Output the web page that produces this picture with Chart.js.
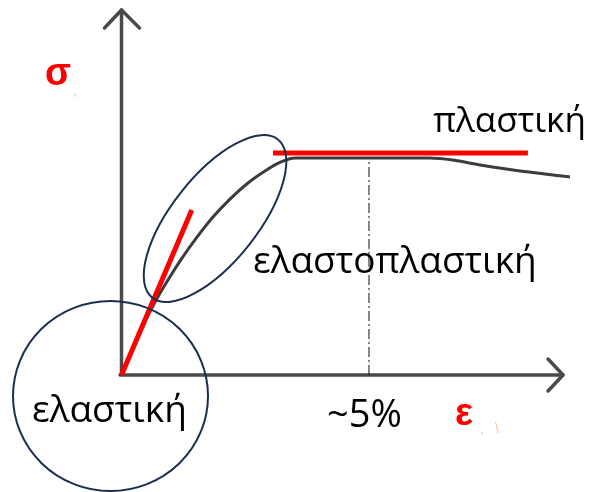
<!DOCTYPE html>
<html>
<head>
<meta charset="utf-8">
<title>σ-ε</title>
<script src="https://cdn.jsdelivr.net/npm/chart.js@4.4.1/dist/chart.umd.min.js"></script>
<style>
    html, body { margin: 0; padding: 0; background: #fff; }
    #wrap { width: 591px; height: 492px; position: relative; }
</style>
</head>
<body>
<div id="wrap"><canvas id="chart" width="591" height="492"></canvas></div>
<script>
/* ---------- Data (strain in %, stress in arbitrary units) ---------- */
const curveStrain = [0, 0.374, 0.677, 0.939, 1.222, 1.525, 1.848, 2.192, 2.556, 2.899, 3.202, 3.505, 6.23, 6.69, 7.24, 7.91, 9.06];
const curveStress = [0, 19.5, 33.0, 43.0, 52.9, 62.4, 71.5, 79.6, 86.9, 92.3, 96.2, 98.2, 98.2, 97.3, 95.0, 92.8, 89.6];

const elasticStrain = [0, 1.42];
const elasticStress = [0, 74.7];

const plasticStrain = [3.06, 8.21];
const plasticStress = [100.5, 100.5];

const markStrain = [5, 5];
const markStress = [0, 98.6];

const labels = ['πλαστική', 'ελαστοπλαστική', 'ελαστική', '~5%'];
const axisLabels = ['σ', 'ε'];

/* ---------- Helpers ---------- */
function toPoints(xs, ys) {
    return xs.map((x, i) => ({ x: x, y: ys[i] }));
}

const AXIS_COLOR = '#4a4a4a';
const RING_COLOR = '#1c2e4f';

// draws both axes with open arrowheads
const axesPlugin = {
    id: 'axes',
    beforeDatasetsDraw(chart) {
        const ctx = chart.ctx;
        const xs = chart.scales.x, ys = chart.scales.y;
        const ox = xs.getPixelForValue(0), oy = ys.getPixelForValue(0);
        const top = ys.getPixelForValue(165.2);
        const right = xs.getPixelForValue(8.92);

        ctx.save();
        ctx.strokeStyle = AXIS_COLOR;
        ctx.lineWidth = 3.5;
        ctx.lineCap = 'round';
        ctx.lineJoin = 'round';
        ctx.beginPath();
        ctx.moveTo(ox, oy);
        ctx.lineTo(ox, top);
        ctx.moveTo(ox - 1.5, oy);
        ctx.lineTo(right, oy);
        ctx.stroke();

        ctx.beginPath();
        ctx.moveTo(ox - 17, top + 18);
        ctx.lineTo(ox, top);
        ctx.lineTo(ox + 18, top + 18);
        ctx.moveTo(right - 15, oy - 16);
        ctx.lineTo(right, oy);
        ctx.lineTo(right - 15, oy + 16);
        ctx.stroke();
        ctx.restore();
    }
};

// rings around the regions and the region names
const notesPlugin = {
    id: 'notes',
    afterDatasetsDraw(chart) {
        const ctx = chart.ctx;
        const xs = chart.scales.x, ys = chart.scales.y;
        const px = v => xs.getPixelForValue(v);
        const py = v => ys.getPixelForValue(v);

        ctx.save();
        ctx.strokeStyle = RING_COLOR;
        ctx.lineWidth = 2;
        ctx.beginPath();
        ctx.ellipse(px(1.89), py(70.8), 101, 43, -51.5 * Math.PI / 180, 0, Math.PI * 2);
        ctx.stroke();
        ctx.beginPath();
        ctx.ellipse(px(-0.222), py(-9.5), 97.5, 95, 0, 0, Math.PI * 2);
        ctx.stroke();

        ctx.fillStyle = '#000';
        ctx.textBaseline = 'alphabetic';
        ctx.textAlign = 'left';
        ctx.font = '35px "Open Sans", sans-serif';
        ctx.fillText(labels[0], px(6.30), py(110.0));
        ctx.font = '37px "Open Sans", sans-serif';
        ctx.fillText(labels[1], px(2.657), py(46.2));
        ctx.fillText(labels[2], px(-1.808), py(-21.3));
        ctx.font = '38px "Open Sans", sans-serif';
        ctx.fillText(labels[3], px(4.152), py(-23.5));

        ctx.fillStyle = '#ff0000';
        ctx.font = 'bold 38px "Liberation Sans", Arial, sans-serif';
        ctx.fillText(axisLabels[0], px(-1.545), py(131.2));
        ctx.fillText(axisLabels[1], px(6.737), py(-22.6));

        // faded leftovers of the unit text
        ctx.fillStyle = 'rgba(245, 150, 60, 0.55)';
        ctx.font = '14px "Liberation Sans", sans-serif';
        ctx.fillText(',', px(-1.545) + 28, py(131.2) + 10);
        ctx.fillText(',', px(6.737) + 25, py(-22.6) + 8);
        ctx.fillText('\\', px(6.737) + 40, py(-22.6) + 8);
        ctx.restore();
    }
};

/* ---------- Chart ---------- */
const ctx = document.getElementById('chart').getContext('2d');

new Chart(ctx, {
    type: 'scatter',
    data: {
        datasets: [
            {
                label: 'elastic',
                data: toPoints(elasticStrain, elasticStress),
                showLine: true,
                borderColor: '#ff0000',
                borderWidth: 5,
                pointRadius: 0,
                order: 0
            },
            {
                label: 'plastic',
                data: toPoints(plasticStrain, plasticStress),
                showLine: true,
                borderColor: '#ff0000',
                borderWidth: 5,
                pointRadius: 0,
                order: 0
            },
            {
                label: 'curve',
                data: toPoints(curveStrain, curveStress),
                showLine: true,
                borderColor: '#3c3c3c',
                borderWidth: 3,
                cubicInterpolationMode: 'monotone',
                pointRadius: 0,
                order: 1
            },
            {
                label: '5%',
                data: toPoints(markStrain, markStress),
                showLine: true,
                borderColor: '#111',
                borderWidth: 1,
                borderDash: [10, 3, 2, 3],
                pointRadius: 0,
                order: 2
            }
        ]
    },
    options: {
        responsive: false,
        animation: false,
        layout: { padding: 0 },
        plugins: {
            legend: { display: false },
            tooltip: { enabled: false }
        },
        scales: {
            x: { type: 'linear', display: false, min: -2.4545, max: 9.485 },
            y: { type: 'linear', display: false, min: -52.94, max: 169.7 }
        }
    },
    plugins: [axesPlugin, notesPlugin]
});
</script>
</body>
</html>
